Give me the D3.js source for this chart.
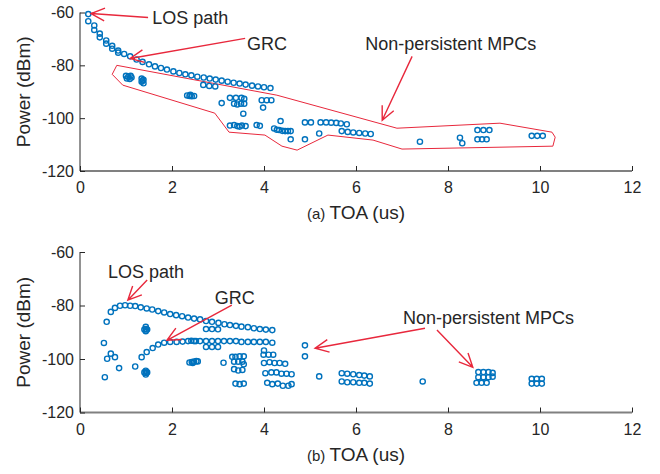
<!DOCTYPE html>
<html>
<head>
<meta charset="utf-8">
<script src="https://cdn.jsdelivr.net/npm/d3@7"></script>
<style>
  body { margin:0; background:#fff; }
  svg { display:block; font-family: "Liberation Sans", Arial, Helvetica, sans-serif; }
</style>
</head>
<body>
<svg id="chart" width="660" height="474"></svg>
<script>
// --- data ---
const xTicks = [0, 2, 4, 6, 8, 10, 12];
const yTicks = [-120, -100, -80, -60];

// (a) top panel: TOA (us), power (dBm)
const pointsA = [
  // LOS + GRC decay
  [0.18,-60.6],[0.18,-63.3],[0.31,-64.9],[0.31,-66.6],[0.43,-68.0],[0.43,-69.4],[0.57,-70.6],[0.57,-71.8],
  [0.70,-72.6],[0.70,-73.7],[0.83,-74.4],[0.83,-75.2],[0.96,-75.7],[1.09,-76.6],[1.23,-77.8],[1.36,-78.7],
  [1.50,-79.6],[1.63,-80.4],[1.76,-81.0],[1.89,-81.6],[2.03,-82.3],[2.16,-82.9],[2.29,-83.4],[2.42,-83.8],
  [2.55,-84.3],[2.69,-84.6],[2.82,-85.0],[2.95,-85.4],[3.08,-85.8],[3.21,-86.2],[3.34,-86.6],[3.47,-86.9],
  [3.60,-87.3],[3.74,-87.7],[3.87,-88.0],[4.00,-88.3],[4.14,-88.6],
  [2.68,-87.4],[2.81,-87.8],[2.94,-88.0],
  // blobs
  [1.00,-84.0],[1.05,-84.3],[1.10,-84.0],[1.02,-85.0],[1.08,-85.2],[1.12,-84.6],
  [1.34,-85.0],[1.38,-85.5],[1.34,-86.2],[1.38,-86.8],[1.36,-85.8],
  [2.33,-91.4],[2.38,-91.6],[2.43,-91.7],[2.48,-91.6],[2.40,-91.2],
  // non-persistent MPCs
  [3.08,-94.3],
  [3.26,-92.3],[3.39,-92.3],[3.51,-92.3],[3.57,-92.7],
  [3.35,-94.5],[3.42,-94.8],[3.50,-94.5],[3.57,-94.5],
  [3.55,-98.3],
  [3.26,-102.8],[3.35,-102.6],[3.42,-103.0],[3.47,-103.2],[3.52,-102.8],[3.60,-103.0],
  [3.84,-102.6],[3.91,-102.9],
  [3.95,-93.2],[4.06,-93.2],[4.16,-93.2],
  [3.98,-96.0],
  [4.36,-101.1],
  [4.22,-103.9],[4.28,-104.4],[4.33,-104.5],[4.40,-104.8],[4.46,-104.9],[4.52,-104.9],[4.58,-104.9],
  [4.58,-108.0],[4.89,-108.0],
  [4.89,-101.6],[5.02,-101.6],
  [5.20,-105.8],
  [5.23,-101.6],[5.35,-101.6],[5.46,-101.7],[5.57,-101.8],[5.67,-102.0],[5.80,-102.3],
  [5.69,-104.9],[5.82,-105.2],[5.94,-105.4],[6.07,-105.6],[6.20,-105.8],[6.32,-106.0],
  [7.39,-108.9],
  [8.26,-107.4],[8.31,-109.5],
  [8.64,-104.5],[8.77,-104.5],[8.90,-104.5],
  [8.64,-108.0],[8.74,-108.0],[8.84,-108.0],
  [9.82,-106.7],[9.94,-106.7],[10.06,-106.7]
];

// red outline drawn round the non-persistent MPCs in (a)
const outlineA = [
  [0.80,-80.0],[0.70,-83.4],[0.93,-87.5],[2.93,-98.1],[3.24,-105.3],[4.02,-106.4],[4.39,-110.6],
  [4.72,-112.1],[5.39,-106.4],[6.37,-108.3],[7.00,-111.7],[10.28,-110.6],[10.33,-107.2],
  [10.26,-105.3],[9.13,-101.9],[6.89,-103.8],[4.28,-91.3]
];

const labelsA = [
  { text: "LOS path", x: 1.57, y: -62.1 },
  { text: "GRC", x: 3.63, y: -71.7 },
  { text: "Non-persistent MPCs", x: 6.20, y: -71.7 }
];
// [tailX, tailY, tipX, tipY]
const arrowsA = [
  [1.48, -61.9, 0.24, -60.4],
  [3.59, -69.8, 1.09, -77.4],
  [7.22, -76.6, 6.57, -100.8]
];

// (b) bottom panel
const pointsB = [
  // LOS
  [0.58,-86.1],[0.67,-82.4],[0.76,-80.9],[0.87,-80.1],[0.98,-79.9],[1.09,-80.1],[1.20,-80.2],[1.32,-80.7],
  [1.45,-81.1],[1.57,-81.5],[1.70,-82.1],[1.83,-82.6],[1.96,-83.2],[2.09,-83.6],[2.22,-84.0],[2.35,-84.5],
  [2.48,-84.9],[2.61,-85.2],[2.74,-85.8],[2.87,-86.1],[3.01,-86.5],[3.14,-87.0],[3.26,-87.3],[3.39,-87.6],
  [3.51,-87.9],[3.65,-88.1],[3.78,-88.5],[3.91,-88.8],[4.04,-89.0],[4.18,-89.2],
  [2.74,-88.8],[2.87,-88.8],[3.00,-88.9],
  [2.74,-95.5],[2.87,-95.5],[3.00,-95.5],
  // GRC
  [1.20,-102.8],[1.34,-99.3],[1.45,-97.4],[1.58,-95.9],[1.70,-94.6],[1.83,-93.9],[1.96,-93.6],[2.10,-93.6],
  [2.23,-93.5],[2.35,-93.3],[2.42,-93.2],[2.48,-93.3],[2.52,-93.3],[2.61,-93.3],[2.74,-93.3],[2.87,-93.3],
  [3.00,-93.3],[3.13,-93.3],[3.26,-93.3],[3.39,-93.3],[3.51,-93.6],[3.65,-93.6],[3.78,-93.6],[3.91,-93.6],
  [4.04,-93.6],[4.18,-93.9],
  // early scatter + blobs
  [0.52,-94.0],[0.67,-98.0],[0.76,-99.3],[0.59,-99.9],[0.85,-103.4],[0.54,-106.8],
  [1.43,-88.0],[1.43,-88.8],[1.43,-89.6],[1.40,-89.0],[1.46,-89.0],
  [1.43,-104.4],[1.43,-105.2],[1.43,-105.8],[1.40,-105.0],[1.46,-105.0],
  [2.38,-101.3],[2.43,-101.1],[2.48,-101.0],[2.53,-100.8],[2.56,-100.9],[2.45,-101.5],
  [3.12,-101.4],
  // cluster 3.3 - 3.6
  [3.31,-99.2],[3.38,-99.2],[3.47,-99.0],[3.56,-99.0],
  [3.35,-101.0],[3.44,-101.0],[3.53,-101.0],[3.56,-102.0],
  [3.35,-103.8],[3.44,-104.3],[3.53,-104.1],
  [3.38,-109.2],[3.47,-109.4],[3.56,-109.2],
  // cluster 4.0 - 4.6
  [4.00,-96.8],
  [3.99,-98.4],[4.10,-98.4],[4.20,-98.4],
  [4.00,-101.5],[4.12,-101.2],[4.23,-101.5],[4.34,-101.5],[4.46,-101.8],
  [4.03,-105.3],[4.16,-105.0],[4.27,-105.0],[4.38,-105.5],[4.49,-105.5],[4.60,-105.7],
  [4.07,-108.9],[4.18,-109.4],[4.30,-109.2],[4.41,-110.0],[4.53,-110.0],[4.60,-109.4],
  // later
  [4.89,-94.9],[4.89,-99.0],
  [5.20,-106.5],
  [5.69,-105.3],[5.81,-105.5],[5.94,-105.7],[6.07,-106.0],[6.18,-106.2],[6.30,-106.5],
  [5.69,-108.4],[5.81,-108.7],[5.94,-108.7],[6.07,-108.9],[6.18,-108.9],[6.30,-109.2],
  [7.45,-108.4],
  [8.66,-104.9],[8.77,-104.9],[8.88,-104.9],[8.97,-105.2],
  [8.66,-106.8],[8.77,-106.8],[8.88,-106.8],[8.97,-106.6],
  [8.62,-108.9],[8.73,-108.9],[8.84,-108.9],
  [9.82,-107.4],[9.93,-107.4],[10.04,-107.4],
  [9.82,-109.2],[9.93,-109.2],[10.04,-109.2]
];

const labelsB = [
  { text: "LOS path", x: 0.61, y: -67.5 },
  { text: "GRC", x: 2.93, y: -76.9 },
  { text: "Non-persistent MPCs", x: 7.02, y: -84.7 }
];
const arrowsB = [
  [1.46, -70.5, 1.04, -78.0],
  [3.30, -79.9, 1.89, -93.0],
  [7.50, -88.5, 5.11, -96.0],
  [7.76, -89.2, 8.54, -103.1]
];

// --- drawing ---
const BLUE = "#0072bd";
const RED = "#e8283c";
const INK = "#262626";

const svg = d3.select("#chart");

function drawPanel(opts) {
  const x = d3.scaleLinear().domain([0, 12]).range([80, 632]);
  const y = d3.scaleLinear().domain([-120, -60]).range([opts.bottom, opts.top]);
  const g = svg.append("g");

  // x axis (ticks pointing inward), plain hyphen minus like MATLAB
  const gx = g.append("g")
    .attr("transform", `translate(0,${opts.bottom})`)
    .call(d3.axisBottom(x).tickValues(xTicks).tickSize(-5).tickPadding(11).tickFormat(d => String(d)));
  gx.selectAll(".tick line").attr("stroke", INK);
  gx.selectAll("text").attr("fill", INK).attr("font-size", 16);

  const gy = g.append("g")
    .attr("transform", "translate(80,0)")
    .call(d3.axisLeft(y).tickValues(yTicks).tickSize(-5).tickPadding(6).tickFormat(d => String(d)));
  gy.selectAll(".tick line").attr("stroke", INK);
  gy.selectAll("text").attr("fill", INK).attr("font-size", 16);
  // no outer ticks on the spines
  gx.select(".domain").attr("d", "M80,0H632").attr("stroke", "#808080").attr("stroke-width", 1.8);
  gy.select(".domain").attr("d", `M0,${opts.top}V${opts.bottom}`).attr("stroke", INK).attr("stroke-width", 1);

  // axis titles
  g.append("text")
    .attr("transform", `translate(30,${(opts.top + opts.bottom) / 2}) rotate(-90)`)
    .attr("text-anchor", "middle")
    .attr("fill", INK)
    .attr("font-size", 19)
    .text("Power (dBm)");

  const xl = g.append("text")
    .attr("x", 356).attr("y", opts.bottom + 48)
    .attr("text-anchor", "middle")
    .attr("fill", INK);
  xl.append("tspan").attr("font-size", 15).text(opts.tag + " ");
  xl.append("tspan").attr("font-size", 19).text("TOA (us)");

  // red outline
  if (opts.outline) {
    g.append("path")
      .datum(opts.outline)
      .attr("d", d3.line().x(d => x(d[0])).y(d => y(d[1])).curve(d3.curveLinearClosed))
      .attr("fill", "none")
      .attr("stroke", RED)
      .attr("stroke-width", 1);
  }

  // markers
  g.append("g").selectAll("circle")
    .data(opts.points)
    .join("circle")
    .attr("cx", d => x(d[0]))
    .attr("cy", d => y(d[1]))
    .attr("r", 2.6)
    .attr("fill", "none")
    .attr("stroke", BLUE)
    .attr("stroke-width", 1.4);

  // arrows
  const ag = g.append("g").attr("stroke", RED).attr("stroke-width", 1.4).attr("fill", "none");
  for (const [tx, ty, hx, hy] of opts.arrows) {
    const x0 = x(tx), y0 = y(ty), x1 = x(hx), y1 = y(hy);
    const ang = Math.atan2(y0 - y1, x0 - x1);
    const len = 15, spread = 0.44;
    ag.append("path").attr("d",
      `M${x0},${y0}L${x1},${y1}` +
      `M${x1 + len * Math.cos(ang - spread)},${y1 + len * Math.sin(ang - spread)}L${x1},${y1}` +
      `L${x1 + len * Math.cos(ang + spread)},${y1 + len * Math.sin(ang + spread)}`);
  }

  // annotation text
  g.append("g").selectAll("text")
    .data(opts.labels)
    .join("text")
    .attr("x", d => x(d.x))
    .attr("y", d => y(d.y))
    .attr("dy", "0.35em")
    .attr("fill", INK)
    .attr("font-size", 18)
    .text(d => d.text);
}

drawPanel({ top: 12.5, bottom: 171, tag: "(a)", points: pointsA, outline: outlineA, labels: labelsA, arrows: arrowsA });
drawPanel({ top: 252, bottom: 412.5, tag: "(b)", points: pointsB, outline: null, labels: labelsB, arrows: arrowsB });
</script>
</body>
</html>
